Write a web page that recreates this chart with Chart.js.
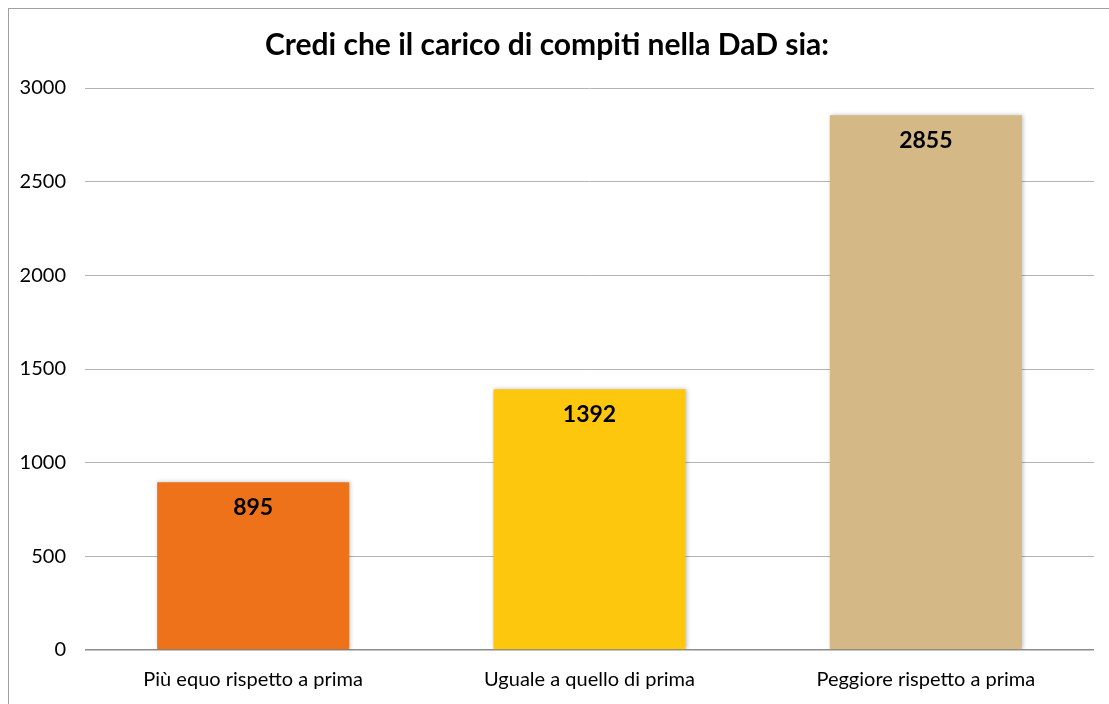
<!DOCTYPE html>
<html><head><meta charset="utf-8">
<script src="https://cdn.jsdelivr.net/npm/chart.js@4/dist/chart.umd.min.js"></script>
<style>
html,body{margin:0;padding:0;background:#fff;}
#wrap{position:relative;width:1109px;height:704px;overflow:hidden;}
#frame{position:absolute;left:8px;top:8px;width:1200px;height:800px;border-left:1px solid #a0a0a0;border-top:1px solid #a0a0a0;}
canvas{position:absolute;left:0;top:0;}
</style></head>
<body><div id="wrap"><div id="frame"></div><canvas id="c" width="1109" height="704"></canvas></div>
<script>
const categories = ["Più equo rispetto a prima", "Uguale a quello di prima", "Peggiore rispetto a prima"];
const values = [895, 1392, 2855];
const barColors = ["#ED7219", "#FDC70D", "#D4B986"];
const yTicks = [0, 500, 1000, 1500, 2000, 2500, 3000];
const titleText = "Credi che il carico di compiti nella DaD sia:";

const labelPlugin = {
  id: 'valLabels',
  afterDatasetsDraw(chart) {
    const ctx = chart.ctx;
    const meta = chart.getDatasetMeta(0);
    ctx.save();
    ctx.font = "bold 23px Lato";
    ctx.fillStyle = "#000";
    ctx.textAlign = "center";
    ctx.textBaseline = "middle";
    meta.data.forEach((bar, i) => {
      ctx.fillText(String(values[i]), bar.x, bar.y + 25);
    });
    ctx.restore();
  }
};
const shadowPlugin = {
  id: 'barShadow',
  beforeDatasetsDraw(chart) {
    chart.ctx.save();
    chart.ctx.shadowColor = "rgba(0,0,0,0.25)";
    chart.ctx.shadowBlur = 4;
    chart.ctx.shadowOffsetX = 1;
    chart.ctx.shadowOffsetY = 0;
  },
  afterDatasetsDraw(chart) { chart.ctx.restore(); }
};

new Chart(document.getElementById('c'), {
  type: 'bar',
  data: {
    labels: categories,
    datasets: [{ data: values, backgroundColor: barColors, borderWidth: 0,
      categoryPercentage: 1, barPercentage: 0.571 }]
  },
  options: {
    responsive: false,
    animation: false,
    layout: { padding: { left: 0, right: 15, top: 0, bottom: 0 } },
    plugins: {
      legend: { display: false },
      tooltip: { enabled: false },
      title: { display: true, text: titleText, color: "#000",
        font: { family: "Lato", size: 30, weight: "bold" },
        padding: { top: 27, bottom: 25 } }
    },
    scales: {
      x: {
        grid: { display: false, drawTicks: false },
        border: { display: false },
        ticks: { color: "#000", font: { family: "Lato", size: 20 }, padding: 18, maxRotation: 0 },
        afterFit(s) { s.height = 54; }
      },
      y: {
        min: 0, max: 3000,
        afterBuildTicks(s) { s.ticks = yTicks.map(v => ({ value: v })); },
        grid: { drawTicks: false, color: (c) => c.tick && c.tick.value === 0 ? "#8c8c8c" : "#b3b3b3", lineWidth: (c) => c.tick && c.tick.value === 0 ? 1.5 : 1 },
        border: { display: false },
        ticks: { color: "#000", font: { family: "Lato", size: 20 }, padding: 19, callback: (v) => String(v) },
        afterFit(s) { s.width = 85; }
      }
    }
  },
  plugins: [shadowPlugin, labelPlugin]
});
</script></body></html>
